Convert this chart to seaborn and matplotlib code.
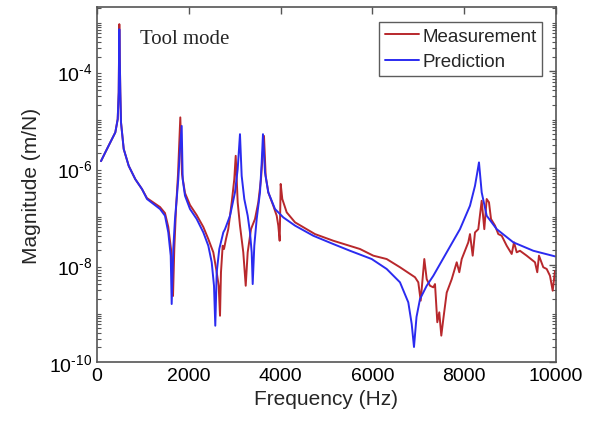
import numpy as np
import pandas as pd
import matplotlib
matplotlib.use("Agg")
import matplotlib.pyplot as plt
import matplotlib.ticker as mticker
import seaborn as sns

# ---- data ----
pred_freq = [87, 181, 290, 399, 451, 473, 486, 508, 523, 582, 691, 834, 980, 1089,
             1373, 1481, 1553, 1606, 1627, 1662, 1699, 1736, 1771, 1808, 1845, 1867,
             1917, 2026, 2172, 2316, 2425, 2499, 2549, 2577, 2608, 2664, 2752, 2789,
             2898, 3006, 3065, 3115, 3152, 3209, 3283, 3333, 3370, 3392, 3427, 3479,
             3551, 3588, 3616, 3660, 3732, 3878, 4059, 4314, 4712, 5148, 5512, 5985,
             6311, 6601, 6782, 6856, 6906, 6961, 7037, 7183, 7327, 7619, 7908, 8126,
             8235, 8285, 8322, 8381, 8490, 8708, 9070, 9505, 9978]
pred_mag = [1.39e-6, 2.11e-6, 3.39e-6, 5.44e-6, 1.02e-5, 3.64e-5, 7.3e-4, 3.64e-5, 8.75e-6,
            2.47e-6, 1.11e-6, 5.9e-7, 3.69e-7, 2.30e-7, 1.43e-7, 1.04e-7, 4.72e-8, 1.56e-8,
            1.57e-9, 2.14e-8, 8.9e-8, 2.30e-7, 5.9e-7, 2.47e-6, 7.4e-6, 5.9e-7, 2.69e-7,
            1.43e-7, 8.9e-8, 4.72e-8, 2.50e-8, 1.14e-8, 3.74e-9, 5.6e-10, 7.1e-9, 2.14e-8,
            4.72e-8, 5.5e-8, 1.04e-7, 3.15e-7, 9.5e-7, 5.0e-6, 6.9e-7, 2.30e-7, 1.04e-7,
            4.72e-8, 1.83e-8, 4.05e-9, 2.50e-8, 8.9e-8, 3.15e-7, 1.31e-6, 5.0e-6, 8.1e-7,
            3.15e-7, 1.43e-7, 9.6e-8, 6.5e-8, 4.02e-8, 2.71e-8, 1.97e-8, 1.33e-8, 8.3e-9,
            4.4e-9, 1.70e-9, 6.1e-10, 2.04e-10, 8.5e-10, 1.99e-9, 3.74e-9, 6.0e-9, 1.83e-8,
            5.5e-8, 1.67e-7, 4.3e-7, 8.1e-7, 1.31e-6, 3.15e-7, 1.04e-7, 5.5e-8, 2.94e-8,
            1.97e-8, 1.51e-8]

meas_freq = [87, 181, 290, 399, 451, 473, 486, 508, 523, 582, 691, 834, 980, 1089, 1373,
             1481, 1553, 1612, 1656, 1684, 1721, 1765, 1815, 1852, 1917, 2026, 2172, 2316,
             2425, 2534, 2608, 2651, 2680, 2701, 2738, 2767, 2810, 2860, 2935, 2991, 3022,
             3065, 3115, 3187, 3240, 3283, 3355, 3442, 3514, 3573, 3638, 3675, 3732, 3841,
             3915, 3950, 3980, 4002, 4037, 4133, 4314, 4749, 5148, 5730, 6020, 6311, 6601,
             6928, 7000, 7052, 7131, 7183, 7255, 7327, 7364, 7414, 7457, 7501, 7545, 7619,
             7728, 7837, 7893, 7946, 8089, 8126, 8185, 8235, 8307, 8381, 8438, 8490, 8540,
             8584, 8671, 8743, 8817, 8926, 9035, 9085, 9144, 9215, 9361, 9542, 9592, 9629,
             9723, 9797, 9869, 9928, 9978]
meas_mag = [1.39e-6, 2.11e-6, 3.39e-6, 5.44e-6, 1.02e-5, 3.64e-5, 9.3e-4, 3.64e-5, 8.75e-6,
            2.47e-6, 1.11e-6, 5.9e-7, 3.69e-7, 2.4e-7, 1.57e-7, 1.18e-7, 6.1e-8, 2.14e-8,
            2.3e-9, 2.14e-8, 1.43e-7, 7.5e-7, 1.11e-5, 7.5e-7, 3.06e-7, 1.73e-7, 1.07e-7,
            6.1e-8, 3.44e-8, 1.83e-8, 7.1e-9, 3.74e-9, 9.0e-10, 7.1e-9, 2.50e-8, 2.14e-8,
            3.44e-8, 5.5e-8, 1.96e-7, 5.9e-7, 1.79e-6, 1.96e-7, 6.5e-8, 1.83e-8, 3.74e-9,
            1.83e-8, 5.5e-8, 8.9e-8, 1.96e-7, 5.9e-7, 4.6e-6, 6.9e-7, 3.15e-7, 1.67e-7,
            1.04e-7, 6.5e-8, 3.17e-8, 4.7e-7, 2.30e-7, 1.22e-7, 7.6e-8, 4.35e-8, 3.17e-8,
            2.14e-8, 1.56e-8, 1.33e-8, 9.0e-9, 5.6e-9, 4.4e-9, 1.84e-9, 1.33e-8, 5.1e-9,
            3.74e-9, 3.47e-9, 4.05e-9, 6.6e-10, 1.06e-9, 3.5e-10, 7.7e-10, 2.7e-9, 5.1e-9,
            1.14e-8, 7.1e-9, 1.33e-8, 2.94e-8, 4.35e-8, 1.56e-8, 4.7e-8, 5.5e-8, 2.12e-7,
            5.5e-8, 2.30e-7, 1.96e-7, 8.9e-8, 6.5e-8, 4.35e-8, 4.02e-8, 2.50e-8, 1.69e-8,
            2.94e-8, 1.83e-8, 1.97e-8, 1.56e-8, 1.14e-8, 7.1e-9, 1.56e-8, 9.0e-9, 8.3e-9,
            6.0e-9, 2.95e-9, 7.6e-9]

x_ticks = [0, 2000, 4000, 6000, 8000, 10000]
y_ticks = [1e-10, 1e-8, 1e-6, 1e-4]
y_ticklabels = [r"$10^{\text{-}10}$", r"$10^{\text{-}8}$", r"$10^{\text{-}6}$", r"$10^{\text{-}4}$"]

# ---- plot ----
sns.set_style("white")
plt.rcParams["font.family"] = ["Liberation Sans", "DejaVu Sans"]
plt.rcParams["mathtext.fontset"] = "custom"
plt.rcParams["mathtext.rm"] = "Liberation Sans"
plt.rcParams["mathtext.it"] = "Liberation Sans"

fig = plt.figure(figsize=(5.96, 4.27), dpi=100)
ax = fig.add_axes([97 / 596, 1 - 363 / 427, (556 - 97) / 596, (363 - 8) / 427])

df_meas = pd.DataFrame({"f": meas_freq, "m": meas_mag})
df_pred = pd.DataFrame({"f": pred_freq, "m": pred_mag})

sns.lineplot(data=df_meas, x="f", y="m", ax=ax, color="#b8282c", lw=1.4,
             label="Measurement", sort=False, estimator=None)
sns.lineplot(data=df_pred, x="f", y="m", ax=ax, color="#2b2bf0", lw=1.4,
             label="Prediction", sort=False, estimator=None)

ax.set_yscale("log")
ax.set_xlim(0, 10000)
ax.set_ylim(1e-10, 2.1e-3)
ax.set_xticks(x_ticks)
ax.set_xticklabels([str(t) for t in x_ticks])
ax.yaxis.set_major_locator(mticker.FixedLocator(y_ticks))
ax.yaxis.set_major_formatter(mticker.FixedFormatter(y_ticklabels))
ax.yaxis.set_minor_locator(mticker.LogLocator(base=10, subs=np.arange(1, 10), numticks=20))
ax.yaxis.set_minor_formatter(mticker.NullFormatter())

ax.tick_params(axis="both", which="major", direction="in", length=5, width=1,
               labelsize=14, top=True, right=True, colors="#555555", labelcolor="black")
ax.tick_params(axis="y", which="minor", direction="in", length=3, width=0.8,
               left=True, right=True, colors="#555555")
for s in ax.spines.values():
    s.set_color("#555555")
    s.set_linewidth(1.2)

ax.set_xlabel("Frequency (Hz)", fontsize=15, labelpad=4)
ax.set_ylabel("Magnitude (m/N)", fontsize=15, labelpad=6)

ax.text(0.094, 0.91, "Tool mode", transform=ax.transAxes, fontsize=15,
        family=["Liberation Serif", "DejaVu Serif"], va="center", ha="left")

leg = ax.legend(loc="upper right", bbox_to_anchor=(0.97, 0.958), fontsize=13.5,
                frameon=True, fancybox=False, handlelength=1.8, handletextpad=0.2,
                borderpad=0.3, labelspacing=0.45, borderaxespad=0)
leg.get_frame().set_edgecolor("#333333")
leg.get_frame().set_linewidth(1.0)

fig.savefig("out.png", dpi=100)
